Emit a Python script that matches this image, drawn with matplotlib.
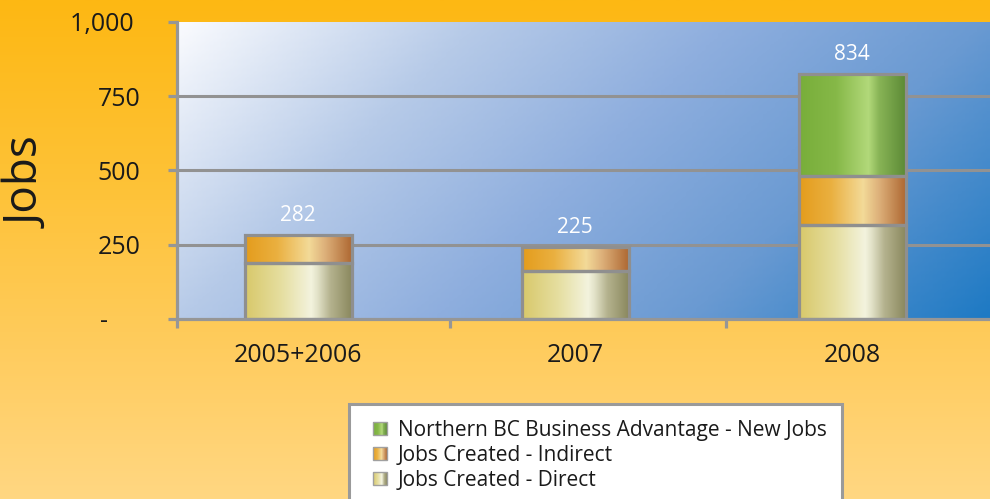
import numpy as np
import matplotlib.pyplot as plt
from matplotlib.colors import LinearSegmentedColormap
from matplotlib.patches import Rectangle, Patch

plt.rcParams['font.family'] = ['Open Sans', 'DejaVu Sans']

# Datos
categorias = ['2005+2006', '2007', '2008']
directos = [190, 160, 316]
indirectos = [92, 82, 166]
nuevos = [0, 0, 344]
etiquetas_total = ['282', '225', '834']
series = ['Northern BC Business Advantage - New Jobs',
          'Jobs Created - Indirect', 'Jobs Created - Direct']
yticks = [0, 250, 500, 750, 1000]
ytick_labels = ['-     ', '250', '500', '750', '1,000 ']

# Degradados tipo "cilindro" de cada serie
cm_directo = LinearSegmentedColormap.from_list('d', [
    (0, '#D8C86A'), (0.35, '#E6DFA2'), (0.62, '#F3F3DE'), (0.68, '#E2E2C8'),
    (0.8, '#B4B28E'), (1, '#8A885E')])
cm_indirecto = LinearSegmentedColormap.from_list('i', [
    (0, '#E49C1C'), (0.3, '#EAB040'), (0.6, '#F3DA98'), (0.75, '#DDB07A'),
    (1, '#AE6832')])
cm_nuevo = LinearSegmentedColormap.from_list('n', [
    (0, '#78AE3A'), (0.35, '#86B848'), (0.65, '#B2D97A'), (0.75, '#88B456'),
    (1, '#5C8A36')])

fig = plt.figure(figsize=(9.9, 4.99), dpi=100)

# fondo naranja
bg = fig.add_axes([0, 0, 1, 1], zorder=-10)
grad = np.linspace(0, 1, 256).reshape(-1, 1)
cm_fondo = LinearSegmentedColormap.from_list('f', [
    (0, '#FDB813'), (0.4, '#FEC33A'), (0.7, '#FFCC5E'), (1, '#FFD782')])
bg.imshow(grad, aspect='auto', cmap=cm_fondo, extent=(0, 1, 0, 1))
bg.set_axis_off()

ax = fig.add_axes([177/990, 1 - 319/499, 813/990, 297/499])
ax.set_facecolor('none')

# fondo azul en diagonal
W, H = 813, 297
px, py = np.meshgrid(np.linspace(0, 1, 200), np.linspace(0, 1, 100))
t = (px * W + py * H) / (W + H)
cm_azul = LinearSegmentedColormap.from_list('a', [
    (0, '#FAFBFE'), (0.27, '#B6CAE8'), (0.5, '#8EAEDE'), (0.73, '#6A9AD2'),
    (1, '#1E7AC4')])
ax.imshow(t, aspect='auto', cmap=cm_azul, extent=(0, 1, 0, 1),
          transform=ax.transAxes, zorder=0)

x = np.arange(len(categorias))
ancho = 0.386

for yv in [250, 500, 750]:
    ax.axhline(yv, color='#929292', lw=2.2, zorder=1)

def barra_degradada(xc, base, alto, cmap):
    if alto <= 0:
        return
    g = np.linspace(0, 1, 256).reshape(1, -1)
    ax.imshow(g, aspect='auto', cmap=cmap, zorder=2,
              extent=(xc - ancho/2, xc + ancho/2, base, base + alto))
    ax.bar(xc, alto, ancho, bottom=base, facecolor='none',
           edgecolor='#8F8F8F', lw=2.3, zorder=3)

for i in range(len(categorias)):
    barra_degradada(x[i], 0, directos[i], cm_directo)
    barra_degradada(x[i], directos[i], indirectos[i], cm_indirecto)
    barra_degradada(x[i], directos[i] + indirectos[i], nuevos[i], cm_nuevo)
    total = directos[i] + indirectos[i] + nuevos[i]
    ax.annotate(etiquetas_total[i], (x[i], total), xytext=(0, 14),
                textcoords='offset points', ha='center', va='center',
                color='white', fontsize=15, zorder=5)

ax.set_xlim(-0.437, 2.498)
ax.set_ylim(0, 1000)

for s in ['top', 'right']:
    ax.spines[s].set_visible(False)
for s in ['left', 'bottom']:
    ax.spines[s].set_color('#969696')
    ax.spines[s].set_linewidth(2.3)
    ax.spines[s].set_zorder(4)

ax.set_yticks(yticks)
ax.set_yticklabels(ytick_labels)
ax.tick_params(axis='y', length=6.5, width=2.3, color='#969696',
               labelsize=18, pad=20, labelcolor='#1A1A1A')
ax.set_xticks(x)
ax.set_xticklabels(categorias)
ax.set_xticks([-0.437, 0.549, 1.545], minor=True)
ax.tick_params(axis='x', which='major', length=0, labelsize=18, pad=17,
               labelcolor='#1A1A1A')
ax.tick_params(axis='x', which='minor', length=6.5, width=2.3,
               color='#969696')

fig.text(29/990, 1 - 183/499, 'Jobs', rotation=90, fontsize=33,
         color='#1A1A1A', ha='center', va='center')


class GradHandler:
    def __init__(self, cmap):
        self.cmap = cmap

    def legend_artist(self, legend, orig_handle, fontsize, handlebox):
        w, h = handlebox.width, handlebox.height
        x0 = -handlebox.xdescent + w - h   # cuadrado a la derecha
        y0 = -handlebox.ydescent
        n = 14
        tr = handlebox.get_transform()
        for k in range(n):
            r = Rectangle((x0 + k*h/n, y0), h/n + 0.3, h,
                          facecolor=self.cmap((k + 0.5)/n), lw=0,
                          transform=tr)
            handlebox.add_artist(r)
        borde = Rectangle((x0, y0), h, h, facecolor='none',
                          edgecolor='#A0A0A0', lw=1.0, transform=tr)
        handlebox.add_artist(borde)
        return borde


handles = [Patch(label=s) for s in series]
hmap = {handles[0]: GradHandler(cm_nuevo),
        handles[1]: GradHandler(cm_indirecto),
        handles[2]: GradHandler(cm_directo)}
leg = fig.legend(handles=handles, handler_map=hmap, loc='upper left',
                 bbox_to_anchor=(349/990, 1 - 404/499), borderaxespad=0,
                 fontsize=15, frameon=True, fancybox=False, framealpha=1,
                 handlelength=1.06, handleheight=0.6, handletextpad=0.53,
                 labelspacing=0.2, borderpad=0.75, labelcolor='#1A1A1A')
leg.get_frame().set_edgecolor('#9A9A9A')
leg.get_frame().set_linewidth(2.2)
leg.get_frame().set_facecolor('white')

fig.savefig('out.png', dpi=100)
